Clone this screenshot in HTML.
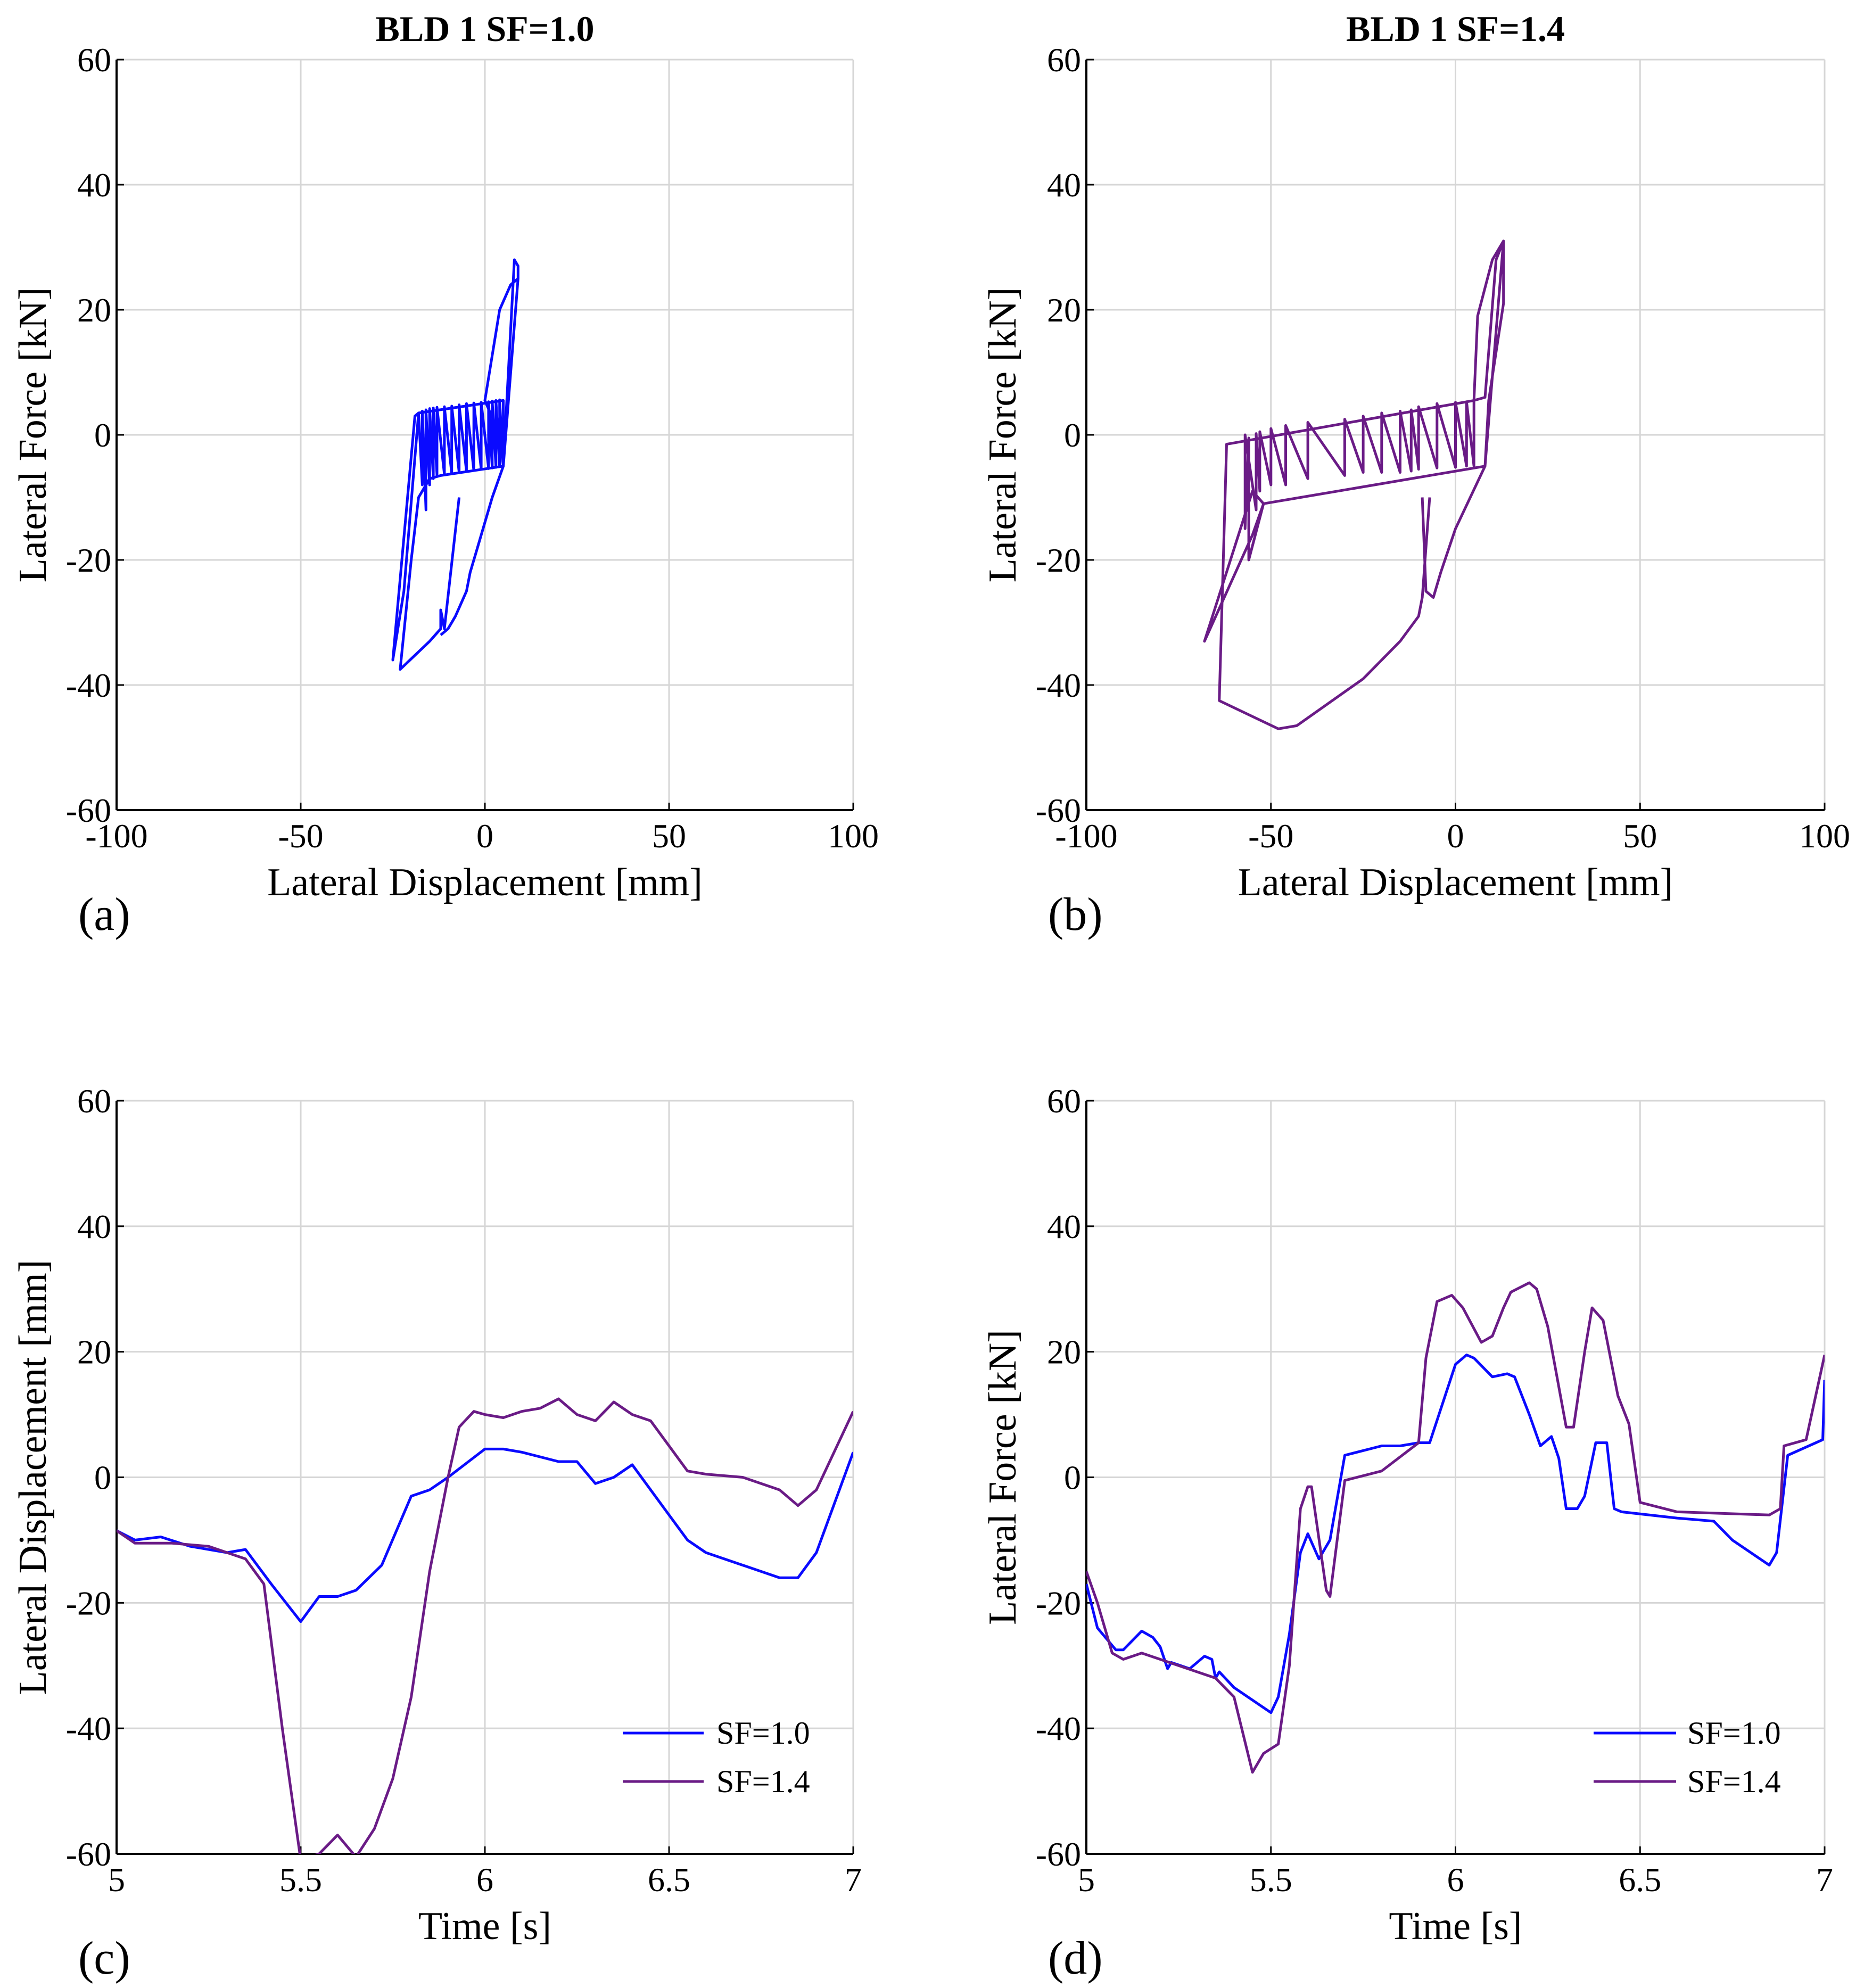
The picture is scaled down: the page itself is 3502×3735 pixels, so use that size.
<!DOCTYPE html>
<html><head><meta charset="utf-8">
<style>
html,body{margin:0;padding:0;background:#fff;}
svg{display:block;font-family:"Liberation Serif",serif;}
</style></head>
<body>
<svg id="fig" width="3502" height="3735" viewBox="0 0 3502 3735"></svg>
<script>
// Panel (a) hysteresis SF=1.0: [disp, force]
const hystA_x = [-7,-11,-12,-12,-15,-23,-20,-18,-15,-12,5,5,-18,-19,-25,-22,-18,
  -17,-17,-16,-16,-15,-15,-14,-14,-13,-13,-11,-11,-9,-9,-7,-7,-5,-5,-3,-3,-1,-1,1,1,2,2,3,3,4,4,
  5,8,9,9,5,4,0,4,7,9,5,2,-2,-4,-5,-8,-10,-12];
const hystA_y = [-10,-31,-28,-31,-33,-37.5,-20,-10,-7,-6.5,-5,5.5,3.5,3,-36,-25,3.5,
  -8,3.8,-12,4,-8,4.2,-7,4.3,-6.5,4.4,-6.3,4.5,-6.2,4.6,-6,4.8,-5.8,5,-5.7,5.1,-5.5,5.2,-5.4,5.3,-5.3,5.4,-5.2,5.5,-5.1,5.6,
  -5,28,27,25,-5,0,5.5,20,24,25,-5,-10,-18,-22,-25,-29,-31,-32];
// Panel (b) hysteresis SF=1.4
const hystB_x = [-7,-9,-10,-15,-25,-43,-48,-64,-62,5,8,11,13,13,9,8,-52,-55,-68,-55,-52,
  -56,-56,-57,-57,-54,-54,-53,-53,-50,-50,-46,-46,-40,-40,-30,-30,-25,-25,-20,-20,-15,-15,-12,-12,-10,-10,-5,-5,0,0,3,3,5,5,
  6,10,13,8,0,-4,-6,-8,-9];
const hystB_y = [-10,-26,-29,-33,-39,-46.5,-47,-42.5,-1.5,5.5,6,28,31,21,5.5,-5,-11,-9,-33,-16,-11,
  -20,-0.5,-15,0,-12,0.2,-9,0.5,-8,1,-8,1.5,-7,2,-6.5,2.5,-6,3,-6,3.5,-6,3.8,-5.8,4,-5.5,4.5,-5.3,5,-5.2,5.2,-5,5.3,-5,5.5,
  19,28,31,-5,-15,-22,-26,-25,-10];
// Panel (c) displacement time series
const tC1 = [5,5.05,5.12,5.2,5.3,5.35,5.42,5.5,5.55,5.6,5.65,5.72,5.8,5.85,5.9,6.0,6.05,6.1,6.2,6.25,6.3,6.35,6.4,6.45,6.5,6.55,6.6,6.7,6.8,6.85,6.9,7];
const dC1 = [-8.5,-10,-9.5,-11,-12,-11.5,-17,-23,-19,-19,-18,-14,-3,-2,0,4.5,4.5,4,2.5,2.5,-1,0,2,-2,-6,-10,-12,-14,-16,-16,-12,4];
const tC2 = [5,5.05,5.15,5.25,5.3,5.35,5.4,5.45,5.5,5.55,5.6,5.65,5.7,5.75,5.8,5.85,5.9,5.93,5.97,6.0,6.05,6.1,6.15,6.2,6.25,6.3,6.35,6.4,6.45,6.5,6.55,6.6,6.7,6.8,6.85,6.9,7];
const dC2 = [-8.5,-10.5,-10.5,-11,-12,-13,-17,-40,-61,-60,-57,-60.5,-56,-48,-35,-15,0,8,10.5,10,9.5,10.5,11,12.5,10,9,12,10,9,5,1,0.5,0,-2,-4.5,-2,10.5];
// Panel (d) force time series
const tD1 = [5,5.03,5.08,5.1,5.15,5.18,5.2,5.22,5.23,5.28,5.32,5.34,5.35,5.36,5.4,5.5,5.52,5.55,5.58,5.6,5.63,5.66,5.7,5.8,5.85,5.9,5.93,6.0,6.03,6.05,6.1,6.14,6.16,6.2,6.23,6.26,6.28,6.3,6.33,6.35,6.38,6.41,6.43,6.45,6.6,6.7,6.75,6.85,6.87,6.9,6.995,7];
const fD1 = [-17,-24,-27.5,-27.5,-24.5,-25.5,-27,-30.5,-29.5,-30.5,-28.5,-29,-32,-31,-33.5,-37.5,-35,-25,-12,-9,-13,-10,3.5,5,5,5.5,5.5,18,19.5,19,16,16.5,16,10,5,6.5,3,-5,-5,-3,5.5,5.5,-5,-5.5,-6.5,-7,-10,-14,-12,3.5,6,15.5];
const tD2 = [5,5.03,5.07,5.1,5.15,5.2,5.3,5.35,5.4,5.45,5.48,5.52,5.55,5.58,5.6,5.61,5.65,5.66,5.7,5.8,5.9,5.92,5.95,5.99,6.02,6.07,6.1,6.13,6.15,6.2,6.22,6.25,6.3,6.32,6.35,6.37,6.4,6.44,6.47,6.5,6.6,6.85,6.88,6.89,6.95,7];
const fD2 = [-15,-20,-28,-29,-28,-29,-31,-32,-35,-47,-44,-42.5,-30,-5,-1.5,-1.5,-18,-19,-0.5,1,5.5,19,28,29,27,21.5,22.5,27,29.5,31,30,24,8,8,20,27,25,13,8.5,-4,-5.5,-6,-5,5,6,19.5];
const forceTicks = [-60,-40,-20,0,20,40,60];
const dispTicks = [-100,-50,0,50,100];
const timeTicks = [5,5.5,6,6.5,7];
const timeTickLabels = ["5","5.5","6","6.5","7"];

const NS="http://www.w3.org/2000/svg";
const svg=document.getElementById('fig');
function mk(tag,attrs,parent){const e=document.createElementNS(NS,tag);for(const k in attrs)e.setAttribute(k,attrs[k]);(parent||svg).appendChild(e);return e;}
const BLUE="#0a0aff", PURP="#6a1b86";

function panel(id,L,R,T,B,xmin,xmax,xt,xtl,ylab,xlab,plabel,title){
  const g=mk('g',{});
  
  
  const sx=v=>L+(v-xmin)/(xmax-xmin)*(R-L);
  const sy=v=>B-(v+60)/120*(B-T);
  mk('rect',{x:L,y:T,width:R-L,height:B-T,fill:'#fff'},g);
  xt.forEach((v,i)=>{
    const ln=mk('line',{x1:sx(v),x2:sx(v),y1:T,y2:B,stroke:'#d6d6d6','stroke-width':3},g);
    
    
    mk('line',{x1:sx(v),x2:sx(v),y1:B,y2:B-14,stroke:'#000','stroke-width':3},g);
    const t=mk('text',{x:sx(v),y:B+70,'font-size':64,'text-anchor':'middle'},g);
    t.textContent=xtl[i];
    
    
  });
  forceTicks.forEach(v=>{
    const ln=mk('line',{x1:L,x2:R,y1:sy(v),y2:sy(v),stroke:'#d6d6d6','stroke-width':3},g);
    
    
    mk('line',{x1:L,x2:L+14,y1:sy(v),y2:sy(v),stroke:'#000','stroke-width':3},g);
    const t=mk('text',{x:L-10,y:sy(v)+22,'font-size':64,'text-anchor':'end'},g);
    t.textContent=String(v);
    
    
  });
  mk('line',{x1:L,x2:L,y1:T,y2:B,stroke:'#000','stroke-width':4},g);
  mk('line',{x1:L,x2:R,y1:B,y2:B,stroke:'#000','stroke-width':4},g);
  const yl=mk('text',{x:0,y:0,'font-size':74,'text-anchor':'middle',transform:`translate(${L-133},${(T+B)/2}) rotate(-90)`},g);
  yl.textContent=ylab;
  
  
  const xl=mk('text',{x:(L+R)/2,y:B+160,'font-size':74,'text-anchor':'middle'},g);
  xl.textContent=xlab;
  
  
  const pl=mk('text',{x:L-72,y:B+225,'font-size':88},g);
  pl.textContent=plabel;
  
  
  if(title){
    const tt=mk('text',{x:(L+R)/2,y:T-35,'font-size':68,'font-weight':'bold','text-anchor':'middle'},g);
    tt.textContent=title;
    
    
  }
  const clipId='clip'+id;
  const cp=mk('clipPath',{id:clipId},g);
  mk('rect',{x:L,y:T,width:R-L,height:B-T},cp);
  return {g,sx,sy,clip:`url(#${clipId})`};
}
function series(p,xs,ys,color,name){
  const d=xs.map((x,i)=>(i?'L':'M')+p.sx(x).toFixed(1)+','+p.sy(ys[i]).toFixed(1)).join(' ');
  const path=mk('path',{d:d,fill:'none',stroke:color,'stroke-width':5,'stroke-linejoin':'round','clip-path':p.clip},p.g);
  
  
}
function legend(p,x1,x2,y,tx){
  [[BLUE,'SF=1.0',0],[PURP,'SF=1.4',91]].forEach(([c,l,dy])=>{
    const ln=mk('line',{x1:x1,x2:x2,y1:y+dy,y2:y+dy,stroke:c,'stroke-width':5},p.g);
    
    
    const t=mk('text',{x:tx,y:y+dy+20,'font-size':60},p.g);
    t.textContent=l;
    
    
  });
}
const pa=panel('a',219,1603,112,1522,-100,100,dispTicks,dispTicks.map(String),'Lateral Force [kN]','Lateral Displacement [mm]','(a)','BLD 1 SF=1.0');
series(pa,hystA_x,hystA_y,BLUE,'hysteresis-sf1.0');
const pb=panel('b',2041,3428,112,1522,-100,100,dispTicks,dispTicks.map(String),'Lateral Force [kN]','Lateral Displacement [mm]','(b)','BLD 1 SF=1.4');
series(pb,hystB_x,hystB_y,PURP,'hysteresis-sf1.4');
const pc=panel('c',219,1603,2068,3483,5,7,timeTicks,timeTickLabels,'Lateral Displacement [mm]','Time [s]','(c)',null);
series(pc,tC1,dC1,BLUE,'displacement-sf1.0');
series(pc,tC2,dC2,PURP,'displacement-sf1.4');
legend(pc,1170,1322,3256,1346);
const pd=panel('d',2041,3428,2068,3483,5,7,timeTicks,timeTickLabels,'Lateral Force [kN]','Time [s]','(d)',null);
series(pd,tD1,fD1,BLUE,'force-sf1.0');
series(pd,tD2,fD2,PURP,'force-sf1.4');
legend(pd,2994,3149,3256,3170);
</script>
</body></html>
